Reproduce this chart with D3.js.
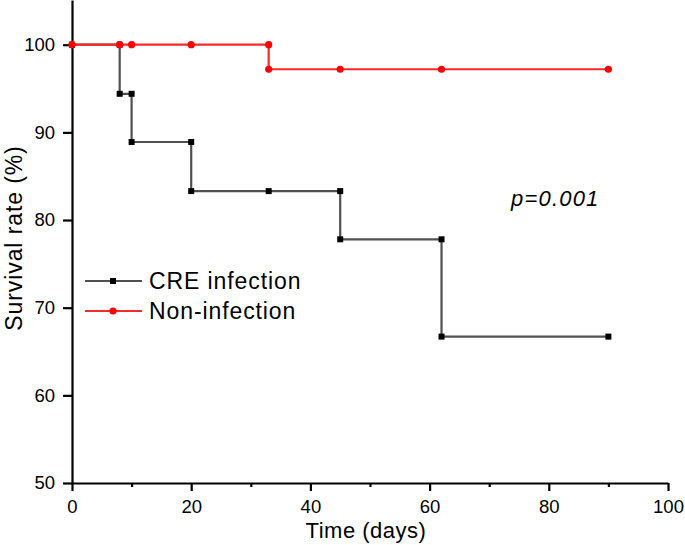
<html>
<head>
<script src="https://d3js.org/d3.v7.min.js"></script>
<style>
  body { margin: 0; background: #fff; }
  text { font-family: "Liberation Sans", Arial, sans-serif; fill: #000; }
</style>
</head>
<body>
<svg id="chart" width="685" height="545"></svg>
<script>
// step vertices
const creTime = [0, 8, 8, 10, 10, 20, 20, 33, 45, 45, 62, 62, 90];
const creRate = [100, 100, 94.4, 94.4, 88.9, 88.9, 83.3, 83.3, 83.3, 77.8, 77.8, 66.7, 66.7];
const nonTime = [0, 8, 10, 20, 33, 33, 45, 62, 90];
const nonRate = [100, 100, 100, 100, 100, 97.2, 97.2, 97.2, 97.2];
const xTicks = [0, 20, 40, 60, 80, 100];
const xMinor = [10, 30, 50, 70, 90];
const yTicks = [50, 60, 70, 80, 90, 100];
const seriesNames = ["CRE infection", "Non-infection"];

const svg = d3.select("#chart");
const x = d3.scaleLinear().domain([0, 100]).range([72, 668]);
const y = d3.scaleLinear().domain([50, 105.1]).range([483, 0]);

// axes
let xAxis = svg.append("g").attr("transform", "translate(0,483)")
  .call(d3.axisBottom(x).tickValues(xTicks).tickSize(8).tickSizeOuter(0).tickPadding(9));
svg.append("g").attr("transform", "translate(0,483)")
  .call(d3.axisBottom(x).tickValues(xMinor).tickSize(4).tickSizeOuter(0).tickFormat(""))
  .select(".domain").remove();
let yAxis = svg.append("g").attr("transform", "translate(72,0)")
  .call(d3.axisLeft(y).tickValues(yTicks).tickSize(9).tickSizeOuter(0).tickPadding(8));

svg.selectAll(".domain").attr("stroke", "#000").attr("stroke-width", 2.2);
svg.selectAll(".tick line").attr("stroke", "#000").attr("stroke-width", 2.2);
svg.selectAll(".tick text").style("font-size", "18.5px").style("font-family", "Liberation Sans, Arial, sans-serif");
xAxis.selectAll(".tick text").attr("dy", "0.71em");

// series
let line = d3.line().x(d => x(d[0])).y(d => y(d[1]));
const cre = creTime.map((t, i) => [t, creRate[i]]);
const non = nonTime.map((t, i) => [t, nonRate[i]]);

svg.append("path").datum(cre).attr("d", line)
  .attr("fill", "none").attr("stroke", "#505050").attr("stroke-width", 2.2);
svg.selectAll(".sq").data(cre).enter().append("rect")
  .attr("x", d => x(d[0]) - 3).attr("y", d => y(d[1]) - 3)
  .attr("width", 6).attr("height", 6).attr("fill", "#000");

svg.append("path").datum(non).attr("d", line)
  .attr("fill", "none").attr("stroke", "#f52a2a").attr("stroke-width", 2.2);
svg.selectAll(".dot").data(non).enter().append("circle")
  .attr("cx", d => x(d[0])).attr("cy", d => y(d[1])).attr("r", 3.6).attr("fill", "#ff0000");

// legend
let leg = svg.append("g");
[{c: "#505050", m: "rect", yy: 281}, {c: "#f52a2a", m: "circle", yy: 311}].forEach((s, i) => {
  leg.append("line").attr("x1", 85).attr("x2", 142).attr("y1", s.yy).attr("y2", s.yy)
    .attr("stroke", s.c).attr("stroke-width", 2);
  if (s.m == "rect")
    leg.append("rect").attr("x", 110).attr("y", s.yy - 3).attr("width", 6).attr("height", 6).attr("fill", "#000");
  else
    leg.append("circle").attr("cx", 113).attr("cy", s.yy).attr("r", 3.6).attr("fill", "#ff0000");
  leg.append("text").attr("x", 149).attr("y", s.yy + 8).text(seriesNames[i])
    .style("font-size", "23px").style("letter-spacing", "0.9px");
});

// titles
svg.append("text").attr("x", 366).attr("y", 538).attr("text-anchor", "middle")
  .style("font-size", "22px").style("letter-spacing", "0.5px").text("Time (days)");
svg.append("text").attr("transform", "translate(22,238) rotate(-90)").attr("text-anchor", "middle")
  .style("font-size", "23px").style("letter-spacing", "0.9px").text("Survival rate (%)");
svg.append("text").attr("x", 511).attr("y", 206)
  .style("font-size", "22px").style("font-style", "italic").style("letter-spacing", "1.2px").text("p=0.001");
</script>
</body>
</html>
